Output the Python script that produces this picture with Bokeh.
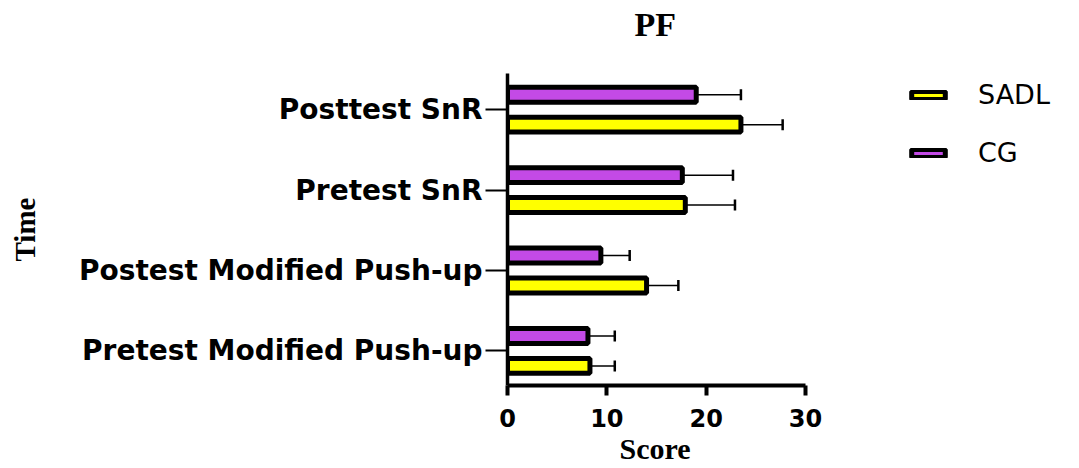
import numpy as np
from bokeh.plotting import figure
from bokeh.models import (Range1d, FixedTicker, Whisker, TeeHead, ColumnDataSource,
                          Legend, LegendItem, Title)
from bokeh.transform import dodge
from bokeh.embed import file_html
from bokeh.resources import INLINE

# ---- data ----
categories = ["Pretest Modified Push-up", "Postest Modified Push-up",
              "Pretest SnR", "Posttest SnR"]
series = ["SADL", "CG"]
sadl_mean = [8.3, 14.0, 17.9, 23.5]
sadl_sd = [2.5, 3.2, 5.0, 4.2]
cg_mean = [8.1, 9.4, 17.6, 19.0]
cg_sd = [2.7, 2.9, 5.1, 4.5]
x_ticks = [0, 10, 20, 30]
colors = {"SADL": "#FFFF00", "CG": "#C34AE6"}

# ---- layout (pixels) ----
W, H = 1079, 468
LEFT, RIGHT, TOP, BOTTOM = 507, 5, 73, 82
AXIS_PX = 298            # pixel length of the 0..30 score axis
x_max = x_ticks[-1]
x_end = x_max * (W - LEFT - RIGHT) / AXIS_PX   # frame extends right to hold the legend

pos = list(range(len(categories)))
src = {
    "SADL": ColumnDataSource(dict(y=pos, mean=sadl_mean,
                                  upper=list(np.array(sadl_mean) + np.array(sadl_sd)))),
    "CG": ColumnDataSource(dict(y=pos, mean=cg_mean,
                                upper=list(np.array(cg_mean) + np.array(cg_sd)))),
}
offsets = {"SADL": -0.186, "CG": 0.186}

p = figure(width=W, height=H, output_backend="svg", toolbar_location=None,
           x_range=Range1d(0, x_end), y_range=Range1d(-0.43, 3.45),
           min_border_left=LEFT, min_border_right=RIGHT, min_border_top=TOP,
           min_border_bottom=BOTTOM)
p.outline_line_color = None
p.xgrid.visible = False
p.ygrid.visible = False
p.title.text = ""

renderers = {}
for s in series:
    w = Whisker(source=src[s], base=dodge("y", offsets[s]), lower="mean", upper="upper",
                dimension="width", line_width=1.5, line_color="black",
                lower_head=None,
                upper_head=TeeHead(size=11, line_width=2.5, line_color="black"))
    p.add_layout(w)
for s in series:
    renderers[s] = p.hbar(y=dodge("y", offsets[s]), height=0.186, left=0, right="mean",
                          source=src[s], fill_color=colors[s], line_color="black",
                          line_width=5)

# axes
p.xaxis.ticker = FixedTicker(ticks=x_ticks)
p.xaxis.bounds = (0, x_max)
p.xaxis.axis_line_width = 4
p.xaxis.major_tick_line_width = 4
p.xaxis.major_tick_out = 10
p.xaxis.major_tick_in = 0
p.xaxis.minor_tick_line_color = None
p.xaxis.major_label_text_font = "DejaVu Sans"
p.xaxis.major_label_text_font_style = "bold"
p.xaxis.major_label_text_font_size = "24px"
p.xaxis.major_label_text_color = "black"
p.xaxis.major_label_standoff = 13
p.xaxis.axis_label = None

# "Score" centred under the 0..30 axis (frame is wider than the axis)
score = Title(text="Score", text_font="Liberation Serif", text_font_style="bold",
              text_font_size="30px", text_color="black", align="left", offset=112,
              vertical_align="top", standoff=4)
p.add_layout(score, "below")

p.yaxis.ticker = FixedTicker(ticks=pos)
p.yaxis.major_label_overrides = {i: c for i, c in zip(pos, categories)}
p.yaxis.axis_line_width = 3.5
p.yaxis.major_tick_line_width = 2
p.yaxis.major_tick_out = 22
p.yaxis.major_tick_in = 0
p.yaxis.minor_tick_line_color = None
p.yaxis.major_label_text_font = "DejaVu Sans"
p.yaxis.major_label_text_font_style = "bold"
p.yaxis.major_label_text_font_size = "28px"
p.yaxis.major_label_text_color = "black"
p.yaxis.major_label_standoff = 3
p.yaxis.axis_label = "Time"
p.yaxis.axis_label_text_font = "Liberation Serif"
p.yaxis.axis_label_text_font_style = "bold"
p.yaxis.axis_label_text_font_size = "29px"
p.yaxis.axis_label_text_color = "black"
p.yaxis.axis_label_standoff = 35

# title, lifted away from the frame by a blank spacer title
spacer = Title(text=" ", text_font_size="10px", standoff=18)
p.add_layout(spacer, "above")
title = Title(text="PF", text_font="Liberation Serif", text_font_style="bold",
              text_font_size="34px", text_color="black", align="left", offset=127,
              standoff=0)
p.add_layout(title, "above")

legend = Legend(items=[LegendItem(label=s, renderers=[renderers[s]]) for s in series],
                location=(400, 217), padding=0, margin=0, spacing=27,
                glyph_width=42, glyph_height=10, label_standoff=29,
                label_text_font="DejaVu Sans", label_text_font_size="27px",
                label_text_color="black",
                border_line_alpha=0, background_fill_alpha=0)
p.add_layout(legend)

open("out.html", "w").write(file_html(p, INLINE))
